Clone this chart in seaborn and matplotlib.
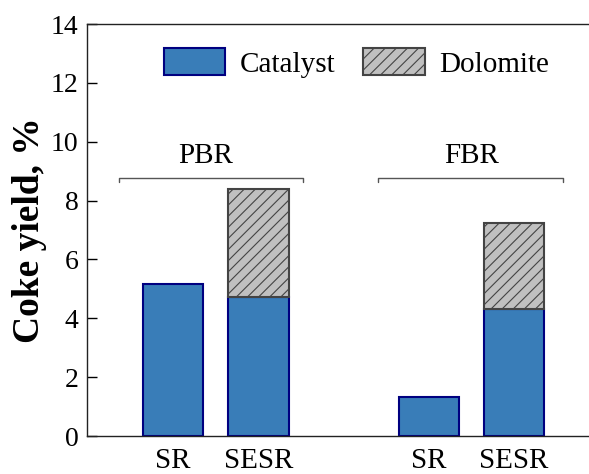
import pandas as pd
import matplotlib.pyplot as plt
import seaborn as sns

# valores
categorias = ["PBR SR", "PBR SESR", "hueco", "FBR SR", "FBR SESR"]
etiquetas = ["SR", "SESR", "", "SR", "SESR"]
catalizador = [5.15, 4.73, None, 1.34, 4.30]
dolomita_cat = ["PBR SESR", "FBR SESR"]
dolomita = [3.68, 2.95]
grupos = ["PBR", "FBR"]
grupo_centro = [0.38, 3.5]
corchete = [(-0.64, 1.53), (2.40, 4.58)]

sns.set_style("ticks")
plt.rcParams['font.family'] = 'serif'
plt.rcParams['font.serif'] = ['Liberation Serif', 'DejaVu Serif']
plt.rcParams['hatch.linewidth'] = 0.8
for k in ['text.color', 'axes.labelcolor', 'xtick.color', 'ytick.color', 'axes.edgecolor']:
    plt.rcParams[k] = 'black'
fuente = ['Liberation Serif', 'DejaVu Serif']

df_cat = pd.DataFrame({'cat': categorias, 'val': catalizador}).dropna()
df_dol = pd.DataFrame({'cat': dolomita_cat, 'val': dolomita})
base = [df_cat.set_index('cat').loc[c, 'val'] for c in dolomita_cat]

fig = plt.figure(figsize=(5.89, 4.74), dpi=100)
ax = fig.add_axes([87/589, 38/474, 502/589, 412/474])

sns.barplot(data=df_cat, x='cat', y='val', order=categorias, errorbar=None,
            width=0.71, color='#397DB8', saturation=1, edgecolor='#000080',
            linewidth=1.5, label='Catalyst', ax=ax)
sns.barplot(data=df_dol, x='cat', y='val', order=categorias, errorbar=None,
            width=0.71, color='#C0C0C0', saturation=1, edgecolor='#444444',
            linewidth=1.5, hatch='///', bottom=base, label='Dolomite', ax=ax)

for g, cx, (x0, x1) in zip(grupos, grupo_centro, corchete):
    ax.plot([x0, x0, x1, x1], [8.62, 8.77, 8.77, 8.62], color='#555555', lw=1)
    ax.text(cx, 9.28, g, ha='center', va='baseline', fontsize=21, family=fuente)

ax.set_xlim(-1.01, 4.88)
ax.set_ylim(0, 14)
ax.set_yticks(range(0, 15, 2))
ax.set_xticks(range(len(categorias)))
ax.set_xticklabels(etiquetas, fontsize=21, family=fuente)
ax.set_yticklabels([str(v) for v in range(0, 15, 2)], fontsize=20, family=fuente)
ax.tick_params(axis='x', length=0, pad=9)
ax.tick_params(axis='y', direction='in', length=7, width=1, pad=6)
ax.set_xlabel('')
ax.set_ylabel('Coke yield, %', fontsize=27, fontweight='bold', labelpad=3, family=fuente)
for s in ['left', 'top', 'bottom']:
    ax.spines[s].set_linewidth(1)
    ax.spines[s].set_color('#222222')
ax.spines['right'].set_visible(False)

ax.legend(handles=[ax.containers[0], ax.containers[1]], labels=['Catalyst', 'Dolomite'],
          loc='center', bbox_to_anchor=(0.537, 0.905), ncol=2, frameon=False,
          prop={'family': fuente, 'size': 21}, handlelength=2.1, handleheight=1.05,
          handletextpad=0.5, columnspacing=0.95)

fig.savefig('out.png', dpi=100)
